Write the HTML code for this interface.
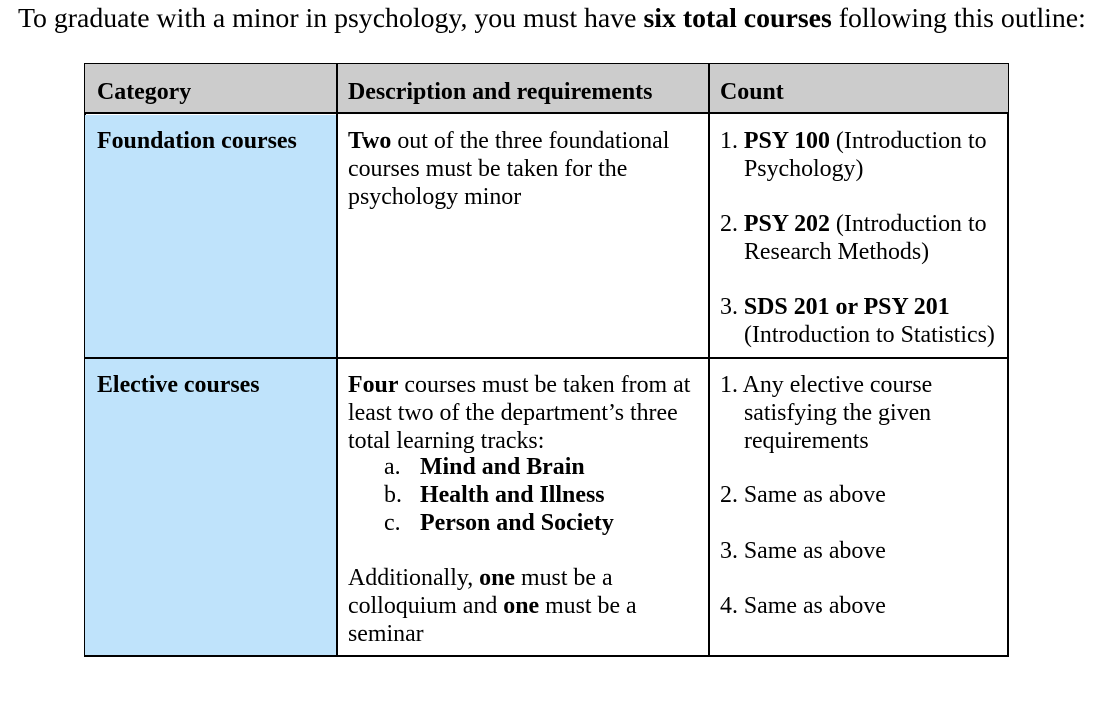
<!DOCTYPE html>
<html><head><meta charset="utf-8"><style>
body{margin:0;width:1112px;height:704px;background:#fff;position:relative;overflow:hidden;font-family:"Liberation Serif","Times New Roman",serif;color:#000}
.t{position:absolute;font-size:23.9px;line-height:28px;white-space:nowrap;font-family:"Liberation Serif","Times New Roman",serif}
.cell{position:absolute;box-sizing:border-box;border:1px solid #000}
b{font-weight:bold}
</style></head><body>
<div class="t" style="left:18px;top:3px;font-size:27.8px;line-height:32px">To graduate with a minor in psychology, you must have <b>six total courses</b> following this outline:</div>
<div style="position:absolute;left:84px;top:63px;width:925px;height:594px;border:2px solid #000;box-sizing:border-box">
</div>
<div class="cell" style="left:85px;top:64px;width:923px;height:50px;background:#cccccc;border:none;border-bottom:2px solid #000"></div>
<div class="cell" style="left:85px;top:115px;width:252px;height:243px;background:#bfe3fb;border:none"></div>
<div class="cell" style="left:85px;top:359px;width:252px;height:296px;background:#bfe3fb;border:none"></div>
<div style="position:absolute;left:85px;top:357px;width:923px;height:2px;background:#000"></div>
<div style="position:absolute;left:336px;top:64px;width:2px;height:592px;background:#000"></div>
<div style="position:absolute;left:708px;top:64px;width:2px;height:592px;background:#000"></div>

<div class="t" style="left:97px;top:78px"><b>Category</b></div>
<div class="t" style="left:348px;top:78px"><b>Description and requirements</b></div>
<div class="t" style="left:720px;top:78px"><b>Count</b></div>

<div class="t" style="left:97px;top:127px"><b>Foundation courses</b></div>
<div class="t" style="left:348px;top:127px"><b>Two</b> out of the three foundational<br>courses must be taken for the<br>psychology minor</div>
<div class="t" style="left:720px;top:127px">1. <b>PSY 100</b> (Introduction to</div>
<div class="t" style="left:744px;top:155px">Psychology)</div>
<div class="t" style="left:720px;top:210px">2. <b>PSY 202</b> (Introduction to</div>
<div class="t" style="left:744px;top:238px">Research Methods)</div>
<div class="t" style="left:720px;top:293px">3. <b>SDS 201 or PSY 201</b></div>
<div class="t" style="left:744px;top:321px">(Introduction to Statistics)</div>

<div class="t" style="left:97px;top:371px"><b>Elective courses</b></div>
<div class="t" style="left:348px;top:371px"><b>Four</b> courses must be taken from at<br>least two of the department’s three<br>total learning tracks:</div>
<div class="t" style="left:384px;top:453px">a.<br>b.<br>c.</div>
<div class="t" style="left:420px;top:453px"><b>Mind and Brain</b><br><b>Health and Illness</b><br><b>Person and Society</b></div>
<div class="t" style="left:348px;top:564px">Additionally, <b>one</b> must be a<br>colloquium and <b>one</b> must be a<br>seminar</div>
<div class="t" style="left:720px;top:371px">1. Any elective course</div>
<div class="t" style="left:744px;top:399px">satisfying the given<br>requirements</div>
<div class="t" style="left:720px;top:481px">2. Same as above</div>
<div class="t" style="left:720px;top:537px">3. Same as above</div>
<div class="t" style="left:720px;top:592px">4. Same as above</div>
</body></html>
